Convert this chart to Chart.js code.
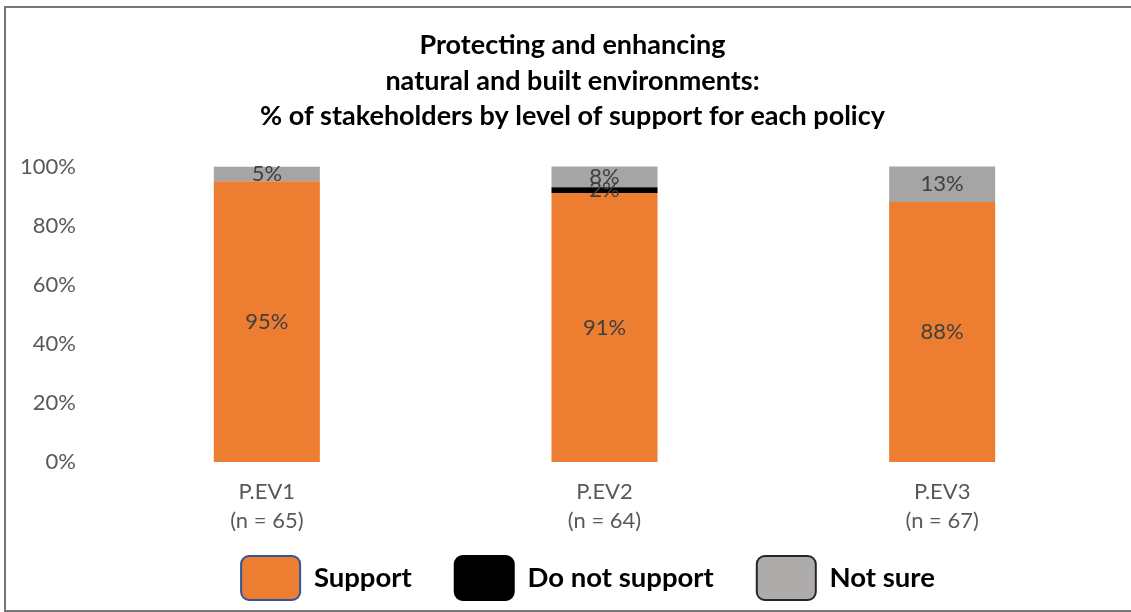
<!DOCTYPE html>
<html>
<head>
<meta charset="utf-8">
<script src="https://cdn.jsdelivr.net/npm/chart.js@4/dist/chart.umd.min.js"></script>
<style>
  html, body { margin: 0; padding: 0; background: #fff; }
  #wrap { position: relative; width: 1131px; height: 612px; overflow: hidden; }
  #frame {
    position: absolute; left: 4px; top: 6px; width: 1150px; height: 602px;
    border: 2px solid #767676; pointer-events: none;
  }
</style>
</head>
<body>
<div id="wrap">
  <canvas id="chart"></canvas>
  <div id="frame"></div>
</div>
<script>
const policies = [["P.EV1", "(n = 65)"], ["P.EV2", "(n = 64)"], ["P.EV3", "(n = 67)"]];
const support = [95, 91, 88];
const doNotSupport = [0, 2, 0];
const notSure = [5, 8, 13];
const yTicks = [0, 20, 40, 60, 80, 100];

const titleLines = [
  "Protecting and enhancing",
  "natural and built environments:",
  "% of stakeholders by level of support for each policy",
];

const FONT = "Lato, 'Open Sans', sans-serif";

// legend box outlines differ from the bar fills
const legendBorders = ["#2F5597", "#000000", "#262626"];
const legendFills = ["#ED7D31", "#000000", "#AEABAB"];

// percentage labels in the middle of each segment
const segmentLabels = {
  id: "segmentLabels",
  afterDatasetsDraw(chart) {
    const ctx = chart.ctx;
    ctx.save();
    ctx.font = "22px " + FONT;
    ctx.fillStyle = "#404040";
    ctx.textAlign = "center";
    ctx.textBaseline = "middle";
    chart.data.datasets.forEach((ds, i) => {
      const meta = chart.getDatasetMeta(i);
      meta.data.forEach((bar, j) => {
        const v = ds.data[j];
        if (!v) return;
        const top = Math.max(bar.y, chart.chartArea.top);
        ctx.fillText(v + "%", bar.x, (top + bar.base) / 2);
      });
    });
    ctx.restore();
  },
};

// title and legend sit a little right of the plot centre,
// legend row pulled up closer to the category labels
const blockOffsets = {
  id: "blockOffsets",
  afterLayout(chart) {
    chart.titleBlock.left = 34;
    chart.legend.left = 65;
    chart.legend.top -= 22;
  },
};

new Chart(document.getElementById("chart"), {
  type: "bar",
  data: {
    labels: policies,
    datasets: [
      { label: "Support", data: support, backgroundColor: "#ED7D31" },
      { label: "Do not support", data: doNotSupport, backgroundColor: "#000000" },
      { label: "Not sure", data: notSure, backgroundColor: "#A5A5A5" },
    ],
  },
  options: {
    responsive: true,
    maintainAspectRatio: false,
    animation: false,
    layout: { padding: { left: 0, right: 20, top: 0, bottom: 2 } },
    datasets: {
      bar: { categoryPercentage: 1, barPercentage: 0.314 },
    },
    scales: {
      x: {
        stacked: true,
        afterFit(scale) {
          scale.height = 73;
        },
        grid: { display: false, drawTicks: false },
        border: { display: false },
        ticks: {
          color: "#595959",
          font: { family: FONT, size: 22, lineHeight: 1.32 },
          padding: 15,
          maxRotation: 0,
        },
      },
      y: {
        stacked: true,
        min: 0,
        max: 100,
        afterFit(scale) {
          scale.width = 98;
        },
        afterBuildTicks(scale) {
          scale.ticks = yTicks.map((v) => ({ value: v }));
        },
        grid: { display: false, drawTicks: false },
        border: { display: false },
        ticks: {
          color: "#595959",
          font: { family: FONT, size: 22 },
          padding: 22,
          callback: (v) => v + "%",
        },
      },
    },
    plugins: {
      tooltip: { enabled: false },
      title: {
        display: true,
        text: titleLines,
        color: "#000",
        font: { family: FONT, size: 27, weight: "bold", lineHeight: 1.315 },
        padding: { top: 28, bottom: 32 },
      },
      legend: {
        position: "bottom",
        maxHeight: 75,
        labels: {
          boxWidth: 59,
          boxHeight: 44,
          padding: 43,
          useBorderRadius: true,
          borderRadius: 8,
          color: "#000",
          font: { family: FONT, size: 27.5, weight: "bold" },
          generateLabels(chart) {
            return chart.data.datasets.map((ds, i) => ({
              text: ds.label,
              fillStyle: legendFills[i],
              strokeStyle: legendBorders[i],
              lineWidth: 2,
              borderRadius: 8,
              hidden: false,
              datasetIndex: i,
              fontColor: "#000",
            }));
          },
        },
      },
    },
  },
  plugins: [segmentLabels, blockOffsets],
});
</script>
</body>
</html>
